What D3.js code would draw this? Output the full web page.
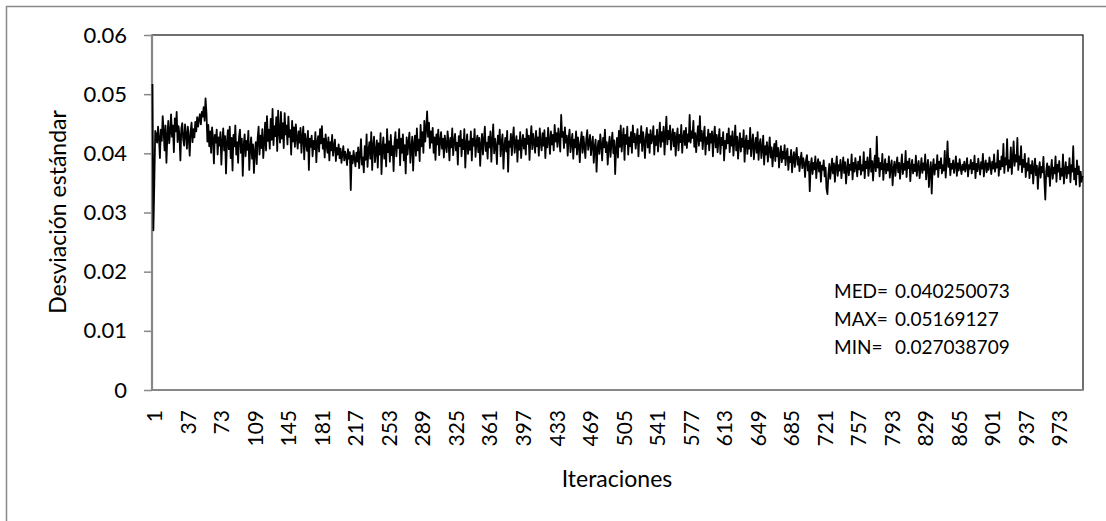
<!DOCTYPE html>
<html>
<head>
<meta charset="utf-8">
<script src="https://cdn.jsdelivr.net/npm/d3@7"></script>
<style>
  body { margin: 0; background: #fff; }
  text { font-family: Lato, "Open Sans", sans-serif; fill: #000; }
</style>
</head>
<body>
<script>
// desviacion estandar por iteracion (1..1000)
const desviacion = [
.0517,.0270,.0352,.0438,.0431,.0418,.0445,.0426,.0392,.0440,.0421,.0463,.0438,.0405,.0447,.0384,.0429,.0455,.0417,.0436,
.0466,.0428,.0447,.0402,.0459,.0437,.0470,.0419,.0446,.0431,.0388,.0442,.0451,.0424,.0413,.0449,.0432,.0408,.0445,.0427,
.0396,.0438,.0452,.0419,.0441,.0427,.0453,.0437,.0461,.0445,.0458,.0466,.0449,.0470,.0462,.0478,.0455,.0493,.0468,.0420,
.0448,.0412,.0437,.0401,.0444,.0426,.0383,.0431,.0418,.0440,.0398,.0427,.0413,.0436,.0381,.0420,.0442,.0405,.0429,.0366,
.0418,.0439,.0407,.0445,.0392,.0426,.0371,.0431,.0412,.0447,.0398,.0419,.0384,.0428,.0440,.0401,.0425,.0362,.0414,.0432,
.0395,.0421,.0406,.0438,.0372,.0410,.0427,.0391,.0415,.0367,.0403,.0419,.0382,.0426,.0445,.0398,.0430,.0409,.0441,.0392,
.0418,.0452,.0405,.0463,.0421,.0440,.0408,.0458,.0423,.0475,.0414,.0446,.0429,.0461,.0404,.0472,.0436,.0418,.0470,.0425,
.0451,.0409,.0468,.0432,.0447,.0415,.0462,.0428,.0439,.0398,.0455,.0420,.0444,.0411,.0449,.0426,.0408,.0437,.0418,.0443,
.0401,.0428,.0445,.0390,.0433,.0419,.0404,.0438,.0372,.0425,.0411,.0430,.0395,.0421,.0407,.0436,.0385,.0418,.0429,.0403,
.0441,.0417,.0446,.0408,.0425,.0393,.0432,.0414,.0401,.0427,.0388,.0419,.0405,.0431,.0396,.0412,.0423,.0387,.0409,.0398,
.0415,.0392,.0408,.0384,.0399,.0412,.0388,.0403,.0395,.0380,.0407,.0391,.0402,.0338,.0396,.0383,.0404,.0391,.0378,.0401,
.0386,.0410,.0375,.0398,.0424,.0381,.0393,.0368,.0412,.0389,.0432,.0377,.0405,.0419,.0391,.0436,.0372,.0414,.0428,.0385,
.0403,.0422,.0376,.0417,.0398,.0434,.0365,.0409,.0427,.0391,.0415,.0378,.0441,.0402,.0420,.0386,.0431,.0397,.0412,.0370,
.0418,.0436,.0395,.0423,.0409,.0441,.0380,.0425,.0401,.0432,.0388,.0414,.0366,.0427,.0398,.0419,.0435,.0384,.0409,.0428,
.0371,.0416,.0430,.0396,.0442,.0405,.0423,.0387,.0448,.0412,.0436,.0401,.0455,.0420,.0441,.0471,.0428,.0452,.0409,.0437,
.0418,.0443,.0401,.0427,.0389,.0432,.0415,.0440,.0397,.0421,.0436,.0408,.0425,.0393,.0430,.0414,.0402,.0437,.0419,.0388,
.0426,.0410,.0442,.0397,.0421,.0433,.0405,.0418,.0381,.0429,.0412,.0438,.0395,.0423,.0407,.0441,.0376,.0415,.0432,.0399,
.0420,.0406,.0437,.0388,.0425,.0413,.0441,.0394,.0419,.0430,.0402,.0426,.0379,.0415,.0433,.0398,.0422,.0445,.0404,.0418,
.0391,.0428,.0410,.0437,.0386,.0421,.0449,.0400,.0425,.0412,.0382,.0430,.0416,.0440,.0395,.0418,.0432,.0374,.0413,.0426,
.0403,.0438,.0369,.0420,.0411,.0433,.0397,.0425,.0444,.0401,.0417,.0429,.0386,.0422,.0406,.0436,.0392,.0419,.0431,.0408,
.0425,.0398,.0441,.0416,.0430,.0389,.0424,.0446,.0407,.0433,.0419,.0401,.0438,.0412,.0427,.0396,.0442,.0418,.0405,.0434,
.0413,.0439,.0392,.0426,.0410,.0443,.0421,.0399,.0437,.0415,.0431,.0405,.0448,.0420,.0434,.0411,.0442,.0425,.0403,.0465,
.0428,.0436,.0409,.0444,.0418,.0430,.0396,.0425,.0440,.0402,.0419,.0433,.0391,.0423,.0410,.0437,.0398,.0427,.0414,.0385,
.0420,.0436,.0401,.0428,.0412,.0392,.0425,.0439,.0406,.0418,.0431,.0397,.0415,.0428,.0384,.0410,.0423,.0369,.0408,.0421,
.0399,.0432,.0414,.0388,.0426,.0410,.0440,.0402,.0419,.0381,.0413,.0428,.0394,.0417,.0435,.0400,.0422,.0365,.0409,.0426,
.0393,.0438,.0411,.0447,.0403,.0425,.0442,.0389,.0431,.0416,.0445,.0398,.0427,.0412,.0436,.0401,.0447,.0419,.0433,.0408,
.0424,.0441,.0395,.0430,.0418,.0446,.0404,.0436,.0421,.0392,.0428,.0443,.0410,.0432,.0401,.0439,.0417,.0425,.0446,.0398,
.0429,.0414,.0440,.0403,.0425,.0452,.0411,.0436,.0420,.0445,.0398,.0431,.0462,.0415,.0438,.0424,.0447,.0406,.0429,.0441,
.0412,.0435,.0396,.0427,.0442,.0405,.0431,.0419,.0448,.0401,.0426,.0438,.0414,.0443,.0409,.0432,.0420,.0465,.0418,.0437,
.0426,.0455,.0411,.0434,.0402,.0428,.0446,.0413,.0463,.0421,.0438,.0407,.0430,.0445,.0398,.0427,.0416,.0440,.0405,.0433,
.0418,.0437,.0395,.0428,.0445,.0410,.0431,.0402,.0423,.0441,.0399,.0426,.0414,.0436,.0388,.0421,.0408,.0433,.0417,.0442,
.0402,.0429,.0413,.0437,.0396,.0420,.0447,.0405,.0428,.0391,.0416,.0434,.0403,.0425,.0411,.0439,.0386,.0418,.0430,.0399,
.0421,.0408,.0443,.0395,.0417,.0432,.0390,.0413,.0426,.0401,.0436,.0389,.0415,.0424,.0392,.0408,.0430,.0381,.0412,.0398,
.0419,.0386,.0405,.0427,.0393,.0410,.0378,.0402,.0416,.0387,.0421,.0395,.0409,.0376,.0398,.0412,.0385,.0403,.0391,.0414,
.0380,.0399,.0408,.0372,.0394,.0385,.0406,.0368,.0391,.0402,.0377,.0396,.0409,.0381,.0394,.0370,.0388,.0401,.0375,.0392,
.0383,.0360,.0389,.0397,.0371,.0386,.0336,.0378,.0392,.0365,.0384,.0373,.0395,.0358,.0381,.0390,.0369,.0385,.0352,.0379,
.0372,.0388,.0361,.0376,.0340,.0331,.0364,.0382,.0357,.0374,.0391,.0366,.0383,.0352,.0377,.0395,.0362,.0380,.0371,.0389,
.0358,.0376,.0393,.0367,.0385,.0349,.0374,.0390,.0363,.0381,.0372,.0398,.0356,.0384,.0369,.0392,.0377,.0361,.0386,.0373,
.0395,.0364,.0380,.0371,.0402,.0358,.0386,.0375,.0393,.0362,.0379,.0408,.0369,.0387,.0354,.0381,.0396,.0370,.0428,.0376,
.0392,.0361,.0384,.0373,.0399,.0355,.0378,.0390,.0366,.0382,.0371,.0395,.0359,.0377,.0388,.0346,.0374,.0386,.0362,.0380,
.0393,.0368,.0384,.0357,.0379,.0398,.0365,.0382,.0372,.0404,.0360,.0386,.0375,.0391,.0353,.0378,.0389,.0366,.0381,.0370,
.0396,.0362,.0379,.0387,.0358,.0374,.0392,.0367,.0383,.0372,.0398,.0356,.0377,.0389,.0343,.0371,.0385,.0332,.0376,.0390,
.0364,.0381,.0373,.0397,.0360,.0386,.0375,.0392,.0366,.0380,.0371,.0404,.0359,.0384,.0420,.0377,.0391,.0363,.0382,.0374,
.0388,.0367,.0379,.0395,.0362,.0383,.0371,.0390,.0376,.0365,.0381,.0372,.0386,.0369,.0378,.0392,.0361,.0380,.0374,.0389,
.0366,.0384,.0373,.0396,.0358,.0382,.0370,.0391,.0377,.0364,.0385,.0374,.0399,.0361,.0379,.0388,.0368,.0383,.0372,.0393,
.0380,.0365,.0386,.0374,.0398,.0369,.0383,.0376,.0405,.0362,.0387,.0373,.0395,.0378,.0416,.0367,.0392,.0381,.0424,.0370,
.0388,.0376,.0410,.0365,.0391,.0420,.0379,.0397,.0386,.0426,.0372,.0395,.0381,.0412,.0368,.0389,.0377,.0399,.0360,.0383,
.0371,.0392,.0358,.0380,.0366,.0387,.0349,.0375,.0391,.0363,.0379,.0340,.0372,.0385,.0359,.0377,.0368,.0394,.0355,.0322,
.0370,.0383,.0361,.0378,.0345,.0372,.0389,.0357,.0376,.0366,.0395,.0352,.0381,.0369,.0387,.0356,.0374,.0362,.0398,.0349,
.0371,.0385,.0358,.0377,.0366,.0392,.0351,.0380,.0369,.0412,.0356,.0374,.0347,.0388,.0365,.0378,.0344,.0369,.0352,.0362
];
const iteraciones = desviacion.map((d, i) => i + 1);

const xTickLabels = [1, 37, 73, 109, 145, 181, 217, 253, 289, 325, 361, 397, 433, 469, 505, 541,
  577, 613, 649, 685, 721, 757, 793, 829, 865, 901, 937, 973];
const yTicks = [0, 0.01, 0.02, 0.03, 0.04, 0.05, 0.06];
const yTickLabels = ["0", "0.01", "0.02", "0.03", "0.04", "0.05", "0.06"];

const statLabels = ["MED=", "MAX=", "MIN="];
const statValues = ["0.040250073", "0.05169127", "0.027038709"];

const width = 1106, height = 521;
const margin = { top: 35, left: 152 };
const plotW = 931, plotH = 355;

const svg = d3.select("body").append("svg")
    .attr("width", width)
    .attr("height", height);

svg.append("rect")
    .attr("width", width).attr("height", height)
    .attr("fill", "#fff");

// outer chart border
svg.append("rect")
    .attr("x", 6.5).attr("y", 6.5)
    .attr("width", 1110).attr("height", 530)
    .attr("fill", "none")
    .attr("stroke", "#888")
    .attr("stroke-width", 1.5);

const g = svg.append("g")
    .attr("transform", `translate(${margin.left}, ${margin.top})`);

const x = d3.scalePoint()
    .domain(iteraciones)
    .range([0, plotW])
    .padding(0.5);

const y = d3.scaleLinear()
    .domain([0, 0.06])
    .range([plotH, 0]);

// plot area border (top/right)
g.append("rect")
    .attr("x", 0).attr("y", 0)
    .attr("width", plotW).attr("height", plotH)
    .attr("fill", "none")
    .attr("stroke", "#111")
    .attr("stroke-width", 1.2);

const yAxis = d3.axisLeft(y)
    .tickValues(yTicks)
    .tickFormat((d, i) => yTickLabels[i])
    .tickSize(8)
    .tickPadding(17);

const yG = g.append("g").call(yAxis);
yG.select(".domain").remove();
yG.selectAll(".tick line").attr("stroke", "#888").attr("stroke-width", 1.5);
yG.selectAll(".tick text")
    .style("font-size", "22px")
    .style("font-family", "Lato, 'Open Sans', sans-serif")
    .attr("fill", "#000");

const xAxis = d3.axisBottom(x)
    .tickValues(xTickLabels)
    .tickSize(0);

const xG = g.append("g")
    .attr("transform", `translate(0, ${plotH})`)
    .call(xAxis);
xG.select(".domain").remove();
xG.selectAll(".tick text")
    .attr("transform", "rotate(-90)")
    .attr("x", -20)
    .attr("y", 2)
    .attr("dy", "0.35em")
    .attr("text-anchor", "end")
    .style("font-size", "21px")
    .style("font-family", "Lato, 'Open Sans', sans-serif")
    .attr("fill", "#000");

// gray axis lines
g.append("line")
    .attr("x1", 0).attr("x2", 0)
    .attr("y1", 0).attr("y2", plotH)
    .attr("stroke", "#888").attr("stroke-width", 2.2);
g.append("line")
    .attr("x1", 0).attr("x2", plotW)
    .attr("y1", plotH).attr("y2", plotH)
    .attr("stroke", "#888").attr("stroke-width", 2.2);

const line = d3.line()
    .x((d, i) => x(iteraciones[i]))
    .y(d => y(d));

g.append("path")
    .datum(desviacion)
    .attr("d", line)
    .attr("fill", "none")
    .attr("stroke", "#000")
    .attr("stroke-width", 1.8)
    .attr("stroke-linejoin", "round");

// stats annotation
const stats = g.append("g");
statLabels.forEach((lab, i) => {
  stats.append("text")
      .attr("x", 834 - margin.left)
      .attr("y", 263 + i * 28)
      .style("font-size", "19px")
      .text(lab);
  stats.append("text")
      .attr("x", 895 - margin.left)
      .attr("y", 263 + i * 28)
      .style("font-size", "19px")
      .text(statValues[i]);
});

// axis titles
svg.append("text")
    .attr("transform", "translate(66, 212) rotate(-90)")
    .attr("text-anchor", "middle")
    .style("font-size", "23px")
    .text("Desviación estándar");

svg.append("text")
    .attr("x", 617)
    .attr("y", 487)
    .attr("text-anchor", "middle")
    .style("font-size", "23px")
    .text("Iteraciones");
</script>
</body>
</html>
